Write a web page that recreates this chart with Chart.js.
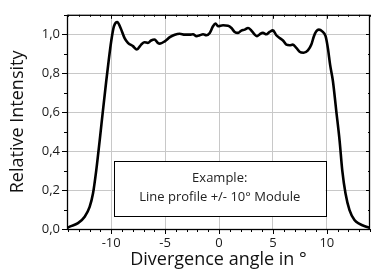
<!DOCTYPE html>
<html><head><meta charset="utf-8">
<script src="https://cdn.jsdelivr.net/npm/chart.js@4/dist/chart.umd.min.js"></script>
<style>html,body{margin:0;padding:0;background:#fff;}#wrap{width:371px;height:271px;}</style>
</head><body><div id="wrap"><canvas id="c" width="371" height="271"></canvas></div>
<script>
const angles = [-14.1,-13.85,-13.08,-12.46,-12.0,-11.69,-11.39,-11.07,-10.77,-10.46,-10.24,-10.0,-9.75,-9.44,-9.13,-8.76,-8.45,-7.99,-7.62,-7.22,-6.91,-6.6,-6.3,-5.98,-5.68,-5.49,-5.03,-4.56,-4.1,-3.64,-3.18,-2.71,-2.41,-2.09,-1.79,-1.48,-1.17,-0.86,-0.56,-0.33,-0.09,0.37,0.83,1.15,1.45,1.76,2.07,2.38,2.69,3.0,3.31,3.52,3.77,4.07,4.39,4.69,5.0,5.31,5.62,5.93,6.24,6.55,6.85,7.17,7.47,7.84,8.24,8.56,8.8,9.02,9.26,9.57,9.88,10.09,10.31,10.56,10.87,11.18,11.43,11.73,12.1,12.56,13.03,13.65,14.0];
const intensity = [0.005,0.012,0.03,0.063,0.114,0.182,0.30,0.454,0.607,0.76,0.862,0.964,1.04,1.063,1.032,0.98,0.956,0.939,0.922,0.947,0.959,0.956,0.968,0.973,0.956,0.952,0.964,0.985,0.998,1.003,0.998,0.998,1.0,0.99,0.995,1.0,0.995,1.007,1.041,1.055,1.041,1.046,1.044,1.032,1.012,1.007,1.019,1.024,1.032,1.019,0.998,0.99,1.0,1.007,1.0,1.012,1.02,0.995,0.981,0.968,0.947,0.944,0.947,0.93,0.91,0.905,0.917,0.947,0.99,1.015,1.024,1.015,0.99,0.93,0.84,0.76,0.607,0.454,0.30,0.182,0.097,0.046,0.026,0.012,0.006];
const xTicks = [-10,-5,0,5,10];
const xMinor = [-14,-13,-12,-11,-9,-8,-7,-6,-4,-3,-2,-1,1,2,3,4,6,7,8,9,11,12,13,14];
const yTicks = [0,0.2,0.4,0.6,0.8,1.0];
const yMinor = [0.1,0.3,0.5,0.7,0.9,1.1];
const boxLines = ["Example:", "Line profile +/- 10° Module"];
const boxRange = {x0:-9.75, x1:9.88, y0:0.066, y1:0.347};

const FONT = "'Open Sans', sans-serif";

const framePlugin = {
  id:'frame',
  afterDatasetsDraw(chart){
    const {ctx, chartArea:a, scales:{x,y}} = chart;
    ctx.save();
    const bx0 = x.getPixelForValue(boxRange.x0), bx1 = x.getPixelForValue(boxRange.x1);
    const by0 = y.getPixelForValue(boxRange.y1), by1 = y.getPixelForValue(boxRange.y0);
    ctx.fillStyle='#fff';
    ctx.fillRect(bx0,by0,bx1-bx0,by1-by0);
    ctx.strokeStyle='#000'; ctx.lineWidth=1;
    ctx.strokeRect(Math.round(bx0)+0.5,Math.round(by0)+0.5,Math.round(bx1-bx0),Math.round(by1-by0));
    ctx.fillStyle='#222'; ctx.font="13px "+FONT; ctx.textAlign='center'; ctx.textBaseline='middle';
    const cx=(bx0+bx1)/2, h=by1-by0;
    ctx.fillText(boxLines[0], cx, by0+h*0.3);
    ctx.fillText(boxLines[1], cx, by0+h*0.66);
    ctx.strokeStyle='#000'; ctx.lineWidth=1.3;
    ctx.strokeRect(a.left+0.5,a.top+0.5,a.right-a.left-1,a.bottom-a.top);
    ctx.lineWidth=1;
    ctx.beginPath();
    xTicks.forEach(v=>{const p=Math.round(x.getPixelForValue(v))+0.5; ctx.moveTo(p,a.bottom); ctx.lineTo(p,a.bottom+5); ctx.moveTo(p,a.top); ctx.lineTo(p,a.top+4);});
    xMinor.forEach(v=>{const p=Math.round(x.getPixelForValue(v))+0.5; ctx.moveTo(p,a.bottom); ctx.lineTo(p,a.bottom+3); ctx.moveTo(p,a.top); ctx.lineTo(p,a.top+2);});
    yTicks.forEach(v=>{const p=Math.round(y.getPixelForValue(v))+0.5; ctx.moveTo(a.left,p); ctx.lineTo(a.left-5,p); ctx.moveTo(a.right,p); ctx.lineTo(a.right-4,p);});
    yMinor.forEach(v=>{const p=Math.round(y.getPixelForValue(v))+0.5; ctx.moveTo(a.left,p); ctx.lineTo(a.left-3,p); ctx.moveTo(a.right,p); ctx.lineTo(a.right-2,p);});
    ctx.stroke();
    ctx.restore();
  }
};

new Chart(document.getElementById('c'), {
  type:'line',
  data:{ datasets:[{ data: angles.map((a,i)=>({x:a,y:intensity[i]})), borderColor:'#000', borderWidth:2.6, pointRadius:0, cubicInterpolationMode:'monotone', fill:false }]},
  options:{
    responsive:false, animation:false, events:[],
    layout:{padding:{top:13,right:1,left:0,bottom:0}},
    plugins:{legend:{display:false}, tooltip:{enabled:false}},
    scales:{
      x:{ type:'linear', min:-14.1, max:14,
        afterBuildTicks(s){ s.ticks = xTicks.map(v=>({value:v})); },
        afterFit(s){ s.height = 42; },
        grid:{color:'#c8c8c8', lineWidth:1, drawTicks:false},
        border:{display:false},
        ticks:{ padding:6, color:'#1a1a1a', font:{family:FONT,size:13}, maxRotation:0, callback:v=>String(v) },
        title:{display:true, text:'Divergence angle in °', color:'#111', font:{family:FONT,size:18}, padding:{top:0,bottom:0}}
      },
      y:{ type:'linear', min:0, max:1.1,
        afterBuildTicks(s){ s.ticks = yTicks.map(v=>({value:v})); },
        afterFit(s){ s.width = 67; },
        grid:{color:'#c8c8c8', lineWidth:1, drawTicks:false},
        border:{display:false},
        ticks:{ padding:7, color:'#1a1a1a', font:{family:FONT,size:13}, callback:v=>v.toFixed(1).replace('.',',') },
        title:{display:true, text:'Relative Intensity', color:'#111', font:{family:FONT,size:18}, padding:{top:7,bottom:0}}
      }
    }
  },
  plugins:[framePlugin]
});
</script></body></html>
